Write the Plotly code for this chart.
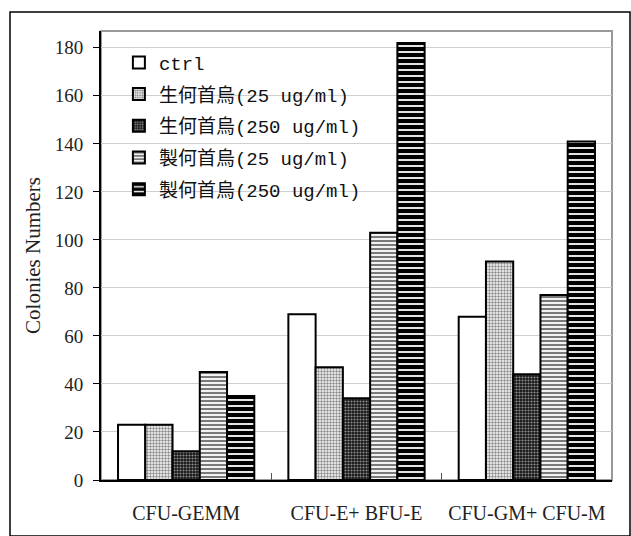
import plotly.graph_objects as go

categories = ["CFU-GEMM", "CFU-E+ BFU-E", "CFU-GM+ CFU-M"]
series_names = ["ctrl", "生何首烏(25 ug/ml)", "生何首烏(250 ug/ml)",
                "製何首烏(25 ug/ml)", "製何首烏(250 ug/ml)"]
ctrl = [23, 69, 68]
raw_25 = [23, 47, 91]
raw_250 = [12, 34, 44]
prep_25 = [45, 103, 77]
prep_250 = [35, 182, 141]
y_ticks = list(range(0, 181, 20))

series_values = [ctrl, raw_25, raw_250, prep_25, prep_250]

# fill styles for each series
styles = [
    dict(color="white", pattern=None),
    dict(color="white", pattern=dict(shape=".", fgcolor="#8a8a8a", bgcolor="white", size=3, solidity=0.5)),
    dict(color="#222222", pattern=dict(shape=".", fgcolor="#8f8f8f", bgcolor="#151515", size=3, solidity=0.4)),
    dict(color="#888888", pattern=dict(shape="-", fgcolor="#7a7a7a", bgcolor="white", size=4, solidity=0.55)),
    dict(color="black", pattern=dict(shape="-", fgcolor="white", bgcolor="black", size=6, solidity=0.3)),
]

fig = go.Figure()
for i, (name, vals, st) in enumerate(zip(series_names, series_values, styles)):
    marker = dict(color=st["color"], line=dict(color="black", width=2))
    if st["pattern"] is not None:
        p = st["pattern"]
        marker["pattern"] = dict(shape=p["shape"], fgcolor=p["fgcolor"],
                                 bgcolor=p["bgcolor"], size=p["size"],
                                 solidity=p["solidity"], fillmode="replace")
    fig.add_trace(go.Bar(x=categories, y=vals, name=name, marker=marker,
                         legendgroup=f"g{i}"))

W, H = 631, 536
ml, mr, mt, mb = 101, 19, 31, 56
pw, ph = W - ml - mr, H - mt - mb

def px_to_paper_x(px):
    return (px - ml) / pw

def px_to_paper_y(py):
    return (H - mb - py) / ph

fig.update_layout(
    width=W, height=H,
    margin=dict(l=ml, r=mr, t=mt, b=mb),
    paper_bgcolor="white", plot_bgcolor="white",
    barmode="group", bargap=0.2, bargroupgap=0,
    font=dict(family="Liberation Serif, Times New Roman, serif", size=18, color="#222222"),
    showlegend=True,
    legend=dict(x=0.035, y=0.972, xanchor="left", yanchor="top",
                bgcolor="rgba(255,255,255,0)", borderwidth=0,
                traceorder="grouped", tracegroupgap=4,
                font=dict(family="Liberation Mono, Noto Sans CJK TC, monospace", size=19, color="#111111"),
                itemwidth=30),
    xaxis=dict(showline=True, linecolor="black", linewidth=2,
               ticks="inside", tickson="boundaries", ticklen=7, tickcolor="#555555",
               ticklabelstandoff=14, tickfont=dict(size=20)),
    yaxis=dict(range=[0, 187], tickvals=y_ticks, showgrid=True, gridcolor="#d0d0d0",
               gridwidth=1, showline=True, linecolor="black", linewidth=2,
               ticks="outside", ticklen=6, tickcolor="black",
               ticklabelstandoff=6, zeroline=False, tickfont=dict(size=19),
               title=dict(text="Colonies Numbers", font=dict(size=21), standoff=8)),
    shapes=[
        # plot area frame
        dict(type="rect", xref="paper", yref="paper", x0=0, x1=1, y0=0, y1=1,
             line=dict(color="#999999", width=2), layer="below"),
        # outer chart border
        dict(type="rect", xref="paper", yref="paper",
             x0=px_to_paper_x(10), x1=px_to_paper_x(630),
             y0=px_to_paper_y(536), y1=px_to_paper_y(12),
             line=dict(color="black", width=1.5)),
    ],
)

fig.write_html("out.html")
